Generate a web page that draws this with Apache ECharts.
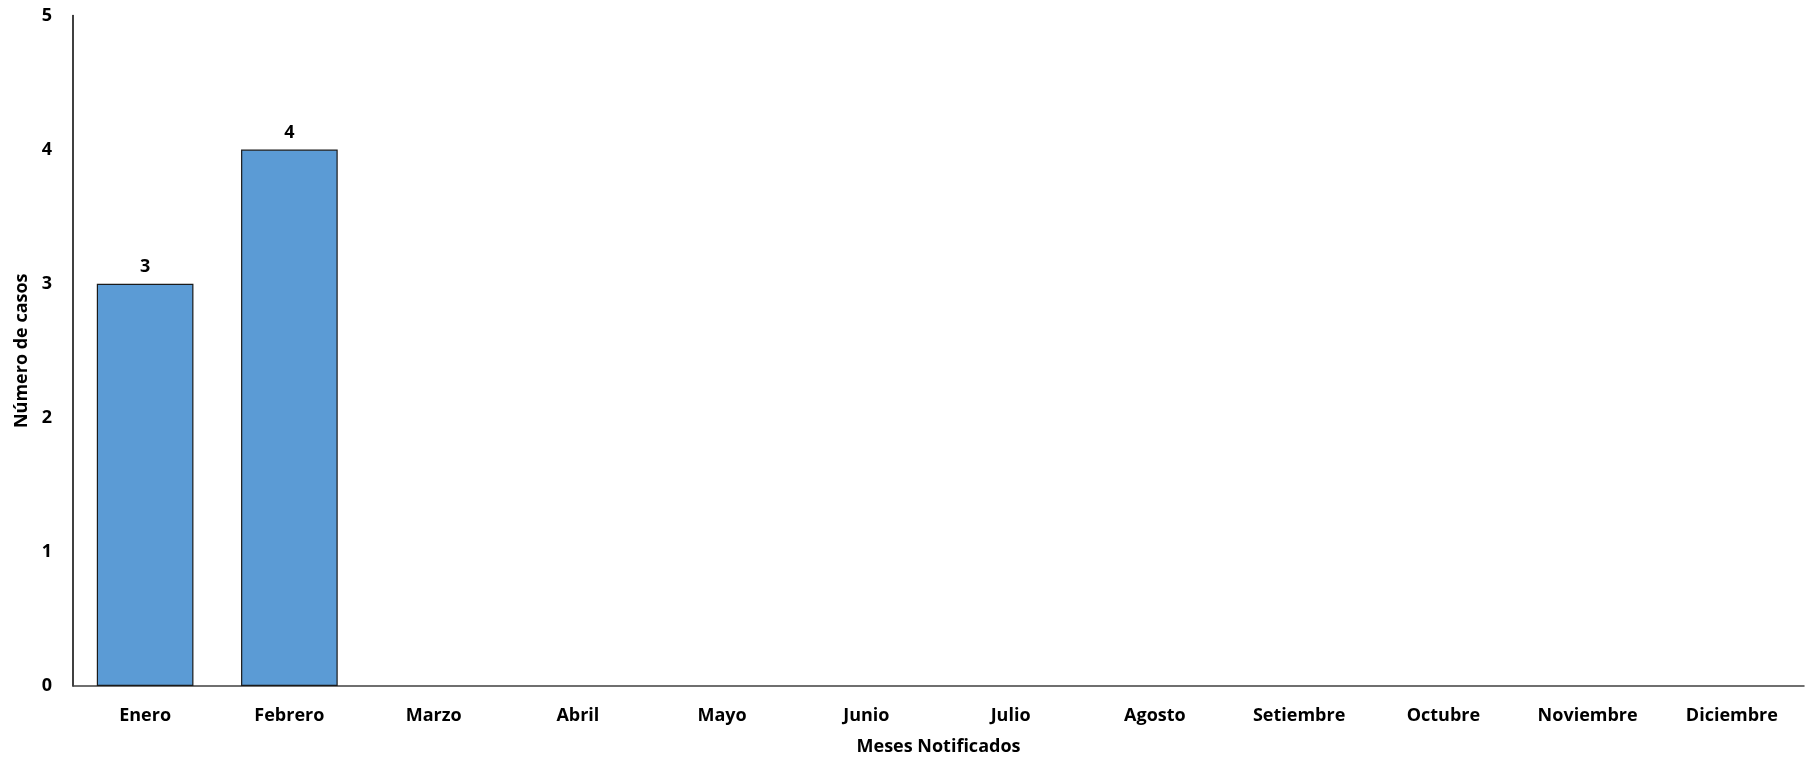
<!DOCTYPE html>
<html>
<head>
<meta charset="utf-8">
<script src="https://cdn.jsdelivr.net/npm/echarts@6/dist/echarts.min.js"></script>
<style>
html,body{margin:0;padding:0;background:#fff;}
#c{width:1806px;height:761px;}
</style>
</head>
<body>
<div id="c"></div>
<script>
const categories = ['Enero','Febrero','Marzo','Abril','Mayo','Junio','Julio','Agosto','Setiembre','Octubre','Noviembre','Diciembre'];
const casos = [3,4,0,0,0,0,0,0,0,0,0,0];
const yTicks = [0,1,2,3,4,5];

const font = '"Open Sans", sans-serif';
const chart = echarts.init(document.getElementById('c'));
chart.setOption({
  backgroundColor:'#fff',
  animation:false,
  grid:{left:73,right:2,top:15.5,bottom:69.5,containLabel:false},
  xAxis:{
    type:'category',
    data:categories,
    name:'Meses Notificados',
    nameLocation:'middle',
    nameGap:52,
    nameTextStyle:{fontFamily:font,fontWeight:'bold',fontSize:18,color:'#000'},
    axisLine:{lineStyle:{color:'#404040',width:1.5}},
    axisTick:{show:false},
    axisLabel:{fontFamily:font,fontWeight:'bold',fontSize:18,color:'#000',margin:20.5,interval:0}
  },
  yAxis:{
    type:'value',
    min:yTicks[0],
    max:yTicks[yTicks.length-1],
    interval:1,
    name:'Número de casos',
    nameLocation:'middle',
    nameGap:35,
    nameTextStyle:{fontFamily:font,fontWeight:'bold',fontSize:18,color:'#000'},
    axisLine:{show:true,lineStyle:{color:'#000',width:1.5}},
    axisTick:{show:false},
    splitLine:{show:false},
    axisLabel:{fontFamily:font,fontWeight:'bold',fontSize:18,color:'#000',margin:21}
  },
  series:[{
    type:'bar',
    data:casos.map(v=>v===0?null:v),
    barCategoryGap:'33%',
    itemStyle:{color:'#5B9BD5',borderColor:'#1a1a1a',borderWidth:1.2},
    label:{show:true,position:'top',distance:8,fontFamily:font,fontWeight:'bold',fontSize:18,color:'#000'}
  }]
});
</script>
</body>
</html>
